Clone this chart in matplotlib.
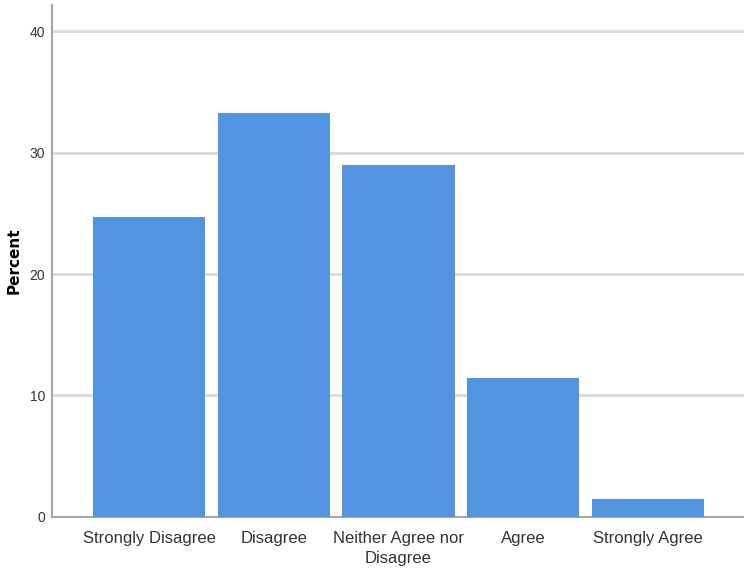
import matplotlib
matplotlib.use('Agg')
import matplotlib.pyplot as plt

# survey responses, percent of respondents
categories = ['Strongly Disagree', 'Disagree', 'Neither Agree nor\nDisagree',
              'Agree', 'Strongly Agree']
percent = [24.7, 33.3, 29.0, 11.4, 1.5]
yticks = [0, 10, 20, 30, 40]

plt.rcParams['font.family'] = ['Liberation Sans', 'DejaVu Sans']

fig = plt.figure(figsize=(7.44, 5.75), dpi=100)
ax = fig.add_axes([0.070, 0.101, 0.930, 0.890])

x = range(len(categories))
ax.bar(x, percent, width=0.9, color='#5294E2', zorder=3)

ax.set_xlim(-0.778, 4.77)
ax.set_ylim(0, 42.14)
ax.set_yticks(yticks)
ax.set_yticklabels([str(t) for t in yticks], fontsize=10, color='#333333')
ax.set_xticks(list(x))
ax.set_xticklabels(categories, fontsize=12, color='#333333', linespacing=1.45)
ax.tick_params(axis='both', length=0)
ax.tick_params(axis='x', pad=10)
ax.tick_params(axis='y', pad=5)

for t in yticks[1:]:
    ax.axhline(t, color='#d9d9d9', lw=2, zorder=1)

for s in ['top', 'right']:
    ax.spines[s].set_visible(False)
ax.spines['left'].set_color('#a6a6a6')
ax.spines['bottom'].set_color('#a6a6a6')
ax.spines['left'].set_linewidth(1.5)
ax.spines['bottom'].set_linewidth(1.5)

ax.set_ylabel('Percent', fontsize=11, fontweight='bold', family=['DejaVu Sans'], labelpad=6)

fig.savefig('out.png', dpi=100)
